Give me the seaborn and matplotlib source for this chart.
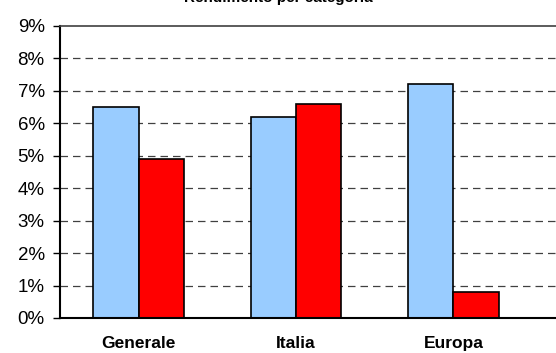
import matplotlib
matplotlib.use("Agg")
import matplotlib.pyplot as plt
import seaborn as sns
import pandas as pd
from matplotlib.ticker import FuncFormatter, FixedLocator

# ─────────────────────────────────────────────────────────────────
# Data
# ─────────────────────────────────────────────────────────────────
categories = ["Generale", "Italia", "Europa"]
series_names = ["Serie 1", "Serie 2"]
serie1 = [6.5, 6.2, 7.2]
serie2 = [4.9, 6.6, 0.8]
colors = ["#99CCFF", "#FF0000"]
title = "Rendimento per categoria"

rows = []
for cat, a, b in zip(categories, serie1, serie2):
    rows.append({"categoria": cat, "serie": series_names[0], "valore": a})
    rows.append({"categoria": cat, "serie": series_names[1], "valore": b})
df = pd.DataFrame(rows)

sns.set_style("white")
plt.rcParams["font.family"] = ["Liberation Sans", "DejaVu Sans"]
plt.rcParams["text.color"] = "black"
plt.rcParams["xtick.color"] = "black"
plt.rcParams["ytick.color"] = "black"

fig = plt.figure(figsize=(5.56, 3.53), dpi=100)
ax = fig.add_axes([60 / 556, 1 - 318 / 353, 496 / 556, 292 / 353])

sns.barplot(
    data=df, x="categoria", y="valore", hue="serie",
    palette=colors, order=categories, hue_order=series_names,
    width=0.575, saturation=1, edgecolor="black", linewidth=1.2,
    ax=ax, legend=False,
)

ax.set_ylim(0, 9)
ax.set_xlim(-0.5, 2.5 + 24 / 157.5)
ax.yaxis.set_major_locator(FixedLocator(range(0, 10)))
ax.yaxis.set_major_formatter(FuncFormatter(lambda v, _: f"{int(v)}%"))
for y in range(1, 9):
    ax.axhline(y, color="#404040", linestyle=(0, (6, 4)), linewidth=0.9, zorder=0)

ax.set_axisbelow(True)
ax.set_xlabel("")
ax.set_ylabel("")

# category boundary ticks, labels centred in between
ax.set_xticks([-0.5, 0.5, 1.5, 2.5])
ax.set_xticklabels([])
ax.set_xticks([0, 1, 2], minor=True)
ax.set_xticklabels(categories, minor=True, fontsize=12.5, fontweight="bold")
ax.tick_params(axis="x", which="minor", length=0, pad=13)
ax.tick_params(axis="x", which="major", direction="out", length=5, width=1)
ax.tick_params(axis="y", direction="out", length=5, width=1,
               labelsize=13.5, pad=6, left=True)

for side in ("left", "bottom"):
    ax.spines[side].set_color("black")
    ax.spines[side].set_linewidth(1.5)
ax.spines["top"].set_color("#404040")
ax.spines["top"].set_linewidth(1.2)
ax.spines["right"].set_visible(False)

fig.text(0.5, 1 - 5 / 353, title, ha="center", va="bottom",
         fontsize=11, fontweight="bold")

fig.savefig("out.png", dpi=100)
